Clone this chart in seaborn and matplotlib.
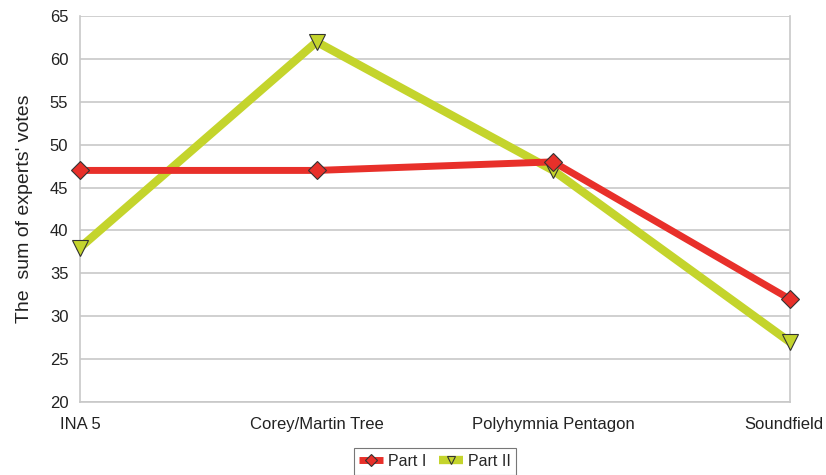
import pandas as pd
import matplotlib
matplotlib.use("Agg")
import matplotlib.pyplot as plt
import matplotlib.transforms as mtransforms
import seaborn as sns

# ----------------------------
# DATA
# ----------------------------

categories = ["INA 5", "Corey/Martin Tree", "Polyhymnia Pentagon", "Soundfield"]
part1 = [47, 47, 48, 32]
part2 = [38, 62, 47, 27]
series_names = ["Part I", "Part II"]

df = pd.DataFrame({
    "system": categories * 2,
    "votes": part1 + part2,
    "part": [series_names[0]] * 4 + [series_names[1]] * 4,
})

# ----------------------------
# STYLE
# ----------------------------

sns.set_style("white")
plt.rcParams['font.family'] = ['Liberation Sans', 'DejaVu Sans']

red = "#e8302a"
green = "#c4d42c"
grid_c = "#c8c8c8"

fig = plt.figure(figsize=(8.26, 4.75), dpi=100)
ax = fig.add_axes([0.097, 0.154, 0.859, 0.812])

sns.lineplot(
    data=df, x="system", y="votes", hue="part", style="part",
    palette={"Part I": red, "Part II": green},
    markers={"Part I": "D", "Part II": "v"},
    dashes=False, sort=False, ax=ax,
    markeredgecolor="#333333", markeredgewidth=0.8,
)

# line widths / marker sizes per series
for line, lw, ms in zip(ax.lines[:2], [5, 6], [9, 12]):
    line.set_linewidth(lw)
    line.set_markersize(ms)
    line.set_clip_on(False)
ax.lines[1].set_zorder(3)
ax.lines[0].set_zorder(4)

ax.set_xlim(0, 3)
ax.set_ylim(20, 65)
ax.set_yticks(range(20, 66, 5))
ax.yaxis.grid(True, color=grid_c, linewidth=1.2)
ax.set_axisbelow(True)

for s in ["left", "bottom", "right"]:
    ax.spines[s].set_color(grid_c)
    ax.spines[s].set_linewidth(1.2)
ax.spines["top"].set_visible(False)

ax.tick_params(axis="both", which="both", length=5, color=grid_c,
               labelsize=12, labelcolor="#222222", direction="out")
ax.tick_params(axis="x", pad=6)

ax.set_xticks(range(4))
ax.set_xticklabels(categories)
ax.set_xlabel("")
ax.set_ylabel("The  sum of experts' votes", fontsize=14, color="#222222", labelpad=12)

# keep the last label inside the figure
last = ax.get_xticklabels()[-1]
last.set_transform(last.get_transform() + mtransforms.ScaledTranslation(-6 / 100, 0, fig.dpi_scale_trans))

leg = ax.legend(
    loc="upper center", bbox_to_anchor=(0.5, -0.1), ncol=2,
    frameon=True, fancybox=False, edgecolor="#555555",
    fontsize=11.5, handlelength=1.5, handletextpad=0.3, columnspacing=0.8,
    borderpad=0.35,
)
leg.get_frame().set_linewidth(0.8)
for h, lw in zip(leg.get_lines(), [5, 6]):
    h.set_markersize(6)
    h.set_linewidth(lw)
    h.set_solid_capstyle("butt")

fig.savefig("out.png", dpi=100)
